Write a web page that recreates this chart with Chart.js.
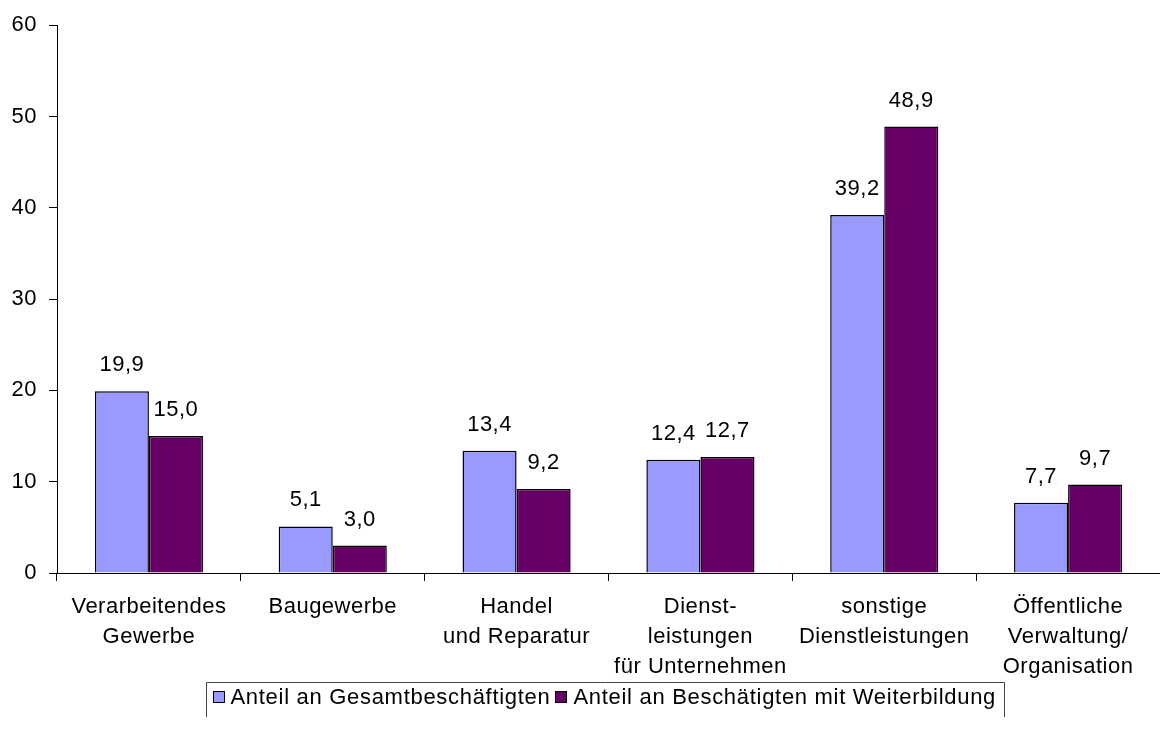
<!DOCTYPE html>
<html>
<head>
<meta charset="utf-8">
<script src="https://cdn.jsdelivr.net/npm/chart.js@4.4.1/dist/chart.umd.min.js"></script>
<style>
html,body{margin:0;padding:0;background:#fff;}
#wrap{width:1160px;height:745px;position:relative;}
</style>
</head>
<body>
<div id="wrap"><canvas id="c" width="1160" height="745"></canvas></div>
<script>
const categories = [
  ["Verarbeitendes", "Gewerbe"],
  "Baugewerbe",
  ["Handel", "und Reparatur"],
  ["Dienst-", "leistungen", "für Unternehmen"],
  ["sonstige", "Dienstleistungen"],
  ["Öffentliche", "Verwaltung/", "Organisation"]
];
const seriesNames = ["Anteil an Gesamtbeschäftigten", "Anteil an Beschätigten mit Weiterbildung"];
const seriesGesamt = [19.9, 5.1, 13.4, 12.4, 39.2, 7.7];
const seriesWeiterbildung = [15.0, 3.0, 9.2, 12.7, 48.9, 9.7];
const yTickValues = [0, 10, 20, 30, 40, 50, 60];
const seriesColors = ["#9999FF", "#660066"];

const FONT = "'Liberation Sans', Arial, sans-serif";
const FS = 22;
const LS = '0.5px';
const LS_LEGEND = '0.7px';

const spacingPlugin = {
  id: 'spacing',
  beforeUpdate(c) { c.ctx.letterSpacing = LS; },
  beforeLayout(c) { c.ctx.letterSpacing = LS; },
  beforeDraw(c) { c.ctx.letterSpacing = LS; }
};

const valueLabels = {
  id: 'valueLabels',
  afterDatasetsDraw(chart) {
    const ctx = chart.ctx;
    ctx.save();
    ctx.letterSpacing = LS;
    ctx.font = FS + "px " + FONT;
    ctx.fillStyle = "#000";
    ctx.textAlign = "center";
    ctx.textBaseline = "middle";
    chart.data.datasets.forEach((ds, i) => {
      const meta = chart.getDatasetMeta(i);
      meta.data.forEach((el, j) => {
        const txt = ds.data[j].toFixed(1).replace('.', ',');
        ctx.fillText(txt, el.x, el.y - 26);
      });
    });
    ctx.restore();
  }
};

const boxLegend = {
  id: 'boxLegend',
  afterDraw(chart) {
    const ctx = chart.ctx;
    ctx.save();
    ctx.letterSpacing = LS_LEGEND;
    ctx.font = FS + "px " + FONT;
    ctx.textBaseline = "middle";
    ctx.textAlign = "left";
    const sq = 12, gapSq = 6, gapItem = 5, padL = 6, padR = 8;
    const widths = chart.data.datasets.map(d => ctx.measureText(d.label).width);
    let total = padL;
    widths.forEach((w, i) => { total += sq + gapSq + w + (i < widths.length - 1 ? gapItem : 0); });
    total += padR;
    const left = Math.round(605 - total / 2) + 0.5;
    const right = left + Math.round(total);
    const top = 682.5;
    const bottom = 717;
    const midY = 697;
    ctx.strokeStyle = "#444";
    ctx.lineWidth = 1;
    ctx.beginPath();
    ctx.moveTo(left, bottom);
    ctx.lineTo(left, top);
    ctx.lineTo(right, top);
    ctx.lineTo(right, bottom);
    ctx.stroke();
    let x = left + padL;
    chart.data.datasets.forEach((d, i) => {
      ctx.fillStyle = d.backgroundColor;
      ctx.fillRect(Math.round(x), midY - 6, sq, sq);
      ctx.strokeStyle = "#000";
      ctx.strokeRect(Math.round(x) + 0.5, midY - 5.5, sq - 1, sq - 1);
      x += sq + gapSq;
      ctx.fillStyle = "#000";
      ctx.fillText(d.label, x, midY + 1);
      x += widths[i] + gapItem;
    });
    ctx.restore();
  }
};

new Chart(document.getElementById('c'), {
  type: 'bar',
  data: {
    labels: categories,
    datasets: [
      { label: seriesNames[0], data: seriesGesamt, backgroundColor: seriesColors[0], borderColor: "#000", borderWidth: 1.5 },
      { label: seriesNames[1], data: seriesWeiterbildung, backgroundColor: seriesColors[1], borderColor: "#000", borderWidth: 1.5 }
    ]
  },
  options: {
    responsive: false,
    animation: false,
    devicePixelRatio: 1,
    layout: { padding: { top: 23, left: 0, right: 0, bottom: 0 } },
    datasets: { bar: { categoryPercentage: 0.588, barPercentage: 1.0 } },
    plugins: { legend: { display: false }, tooltip: { enabled: false } },
    scales: {
      x: {
        offset: true,
        afterFit(s) { s.height = 172; },
        grid: { display: true, offset: true, drawOnChartArea: false, drawTicks: true, tickLength: 8, color: "#000", lineWidth: 1 },
        border: { display: true, color: "#000", width: 1 },
        ticks: { color: "#000", padding: 11, maxRotation: 0, autoSkip: false, font: { family: FONT, size: FS, lineHeight: 1.36 } }
      },
      y: {
        min: 0, max: 60,
        afterFit(s) { s.width = 57; },
        afterBuildTicks(s) { s.ticks = yTickValues.map(v => ({ value: v })); },
        grid: { display: true, drawOnChartArea: false, drawTicks: true, tickLength: 8, color: "#000", lineWidth: 1 },
        border: { display: true, color: "#000", width: 1 },
        ticks: { color: "#000", padding: 12, font: { family: FONT, size: FS } }
      }
    }
  },
  plugins: [spacingPlugin, valueLabels, boxLegend]
});
</script>
</body>
</html>
